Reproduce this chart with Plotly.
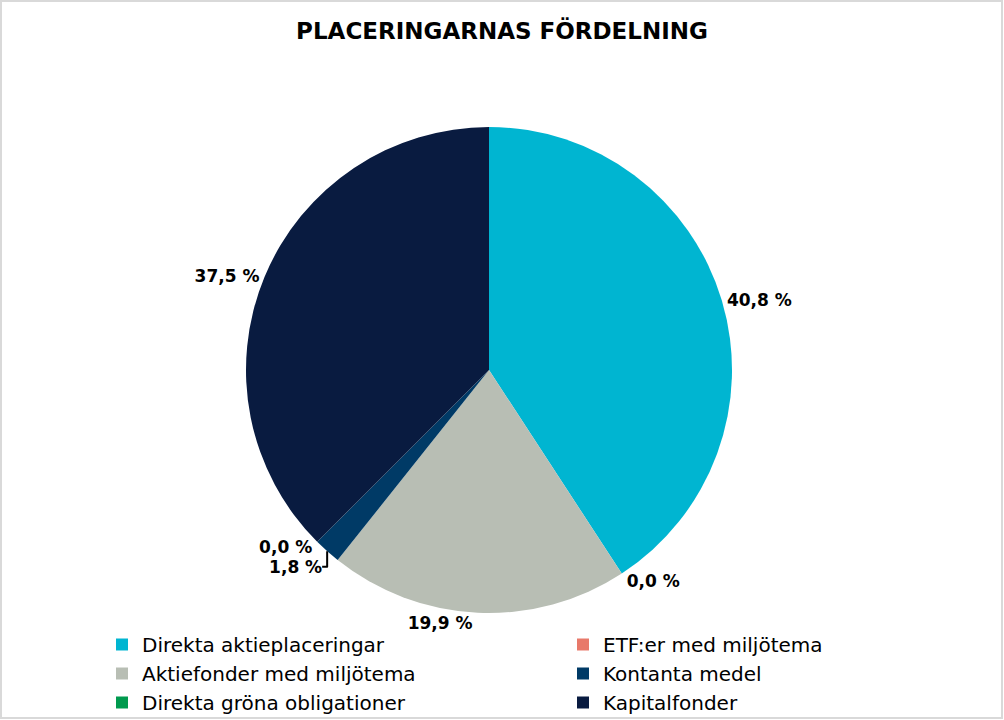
import plotly.graph_objects as go

categories = [
    "Direkta aktieplaceringar",
    "ETF:er med miljötema",
    "Aktiefonder med miljötema",
    "Kontanta medel",
    "Direkta gröna obligationer",
    "Kapitalfonder",
]
values = [40.8, 0.0, 19.9, 1.8, 0.0, 37.5]
colors = ["#00B5D1", "#E8796A", "#B8BEB4", "#003A66", "#009A4E", "#091B40"]

W, H = 1004, 720
cx, cy, r = 489, 370, 243
FONT = "DejaVu Sans"

fig = go.Figure(go.Pie(
    labels=categories,
    values=values,
    sort=False,
    direction="clockwise",
    rotation=0,
    marker=dict(colors=colors, line=dict(width=0)),
    texttemplate="%{value:.1f} %",
    textposition="outside",
    outsidetextfont=dict(family=FONT, size=17, color="black", weight="bold"),
    hoverinfo="label+value",
    domain=dict(x=[(cx - r) / W, (cx + r) / W], y=[1 - (cy + r) / H, 1 - (cy - r) / H]),
    showlegend=True,
))

fig.update_layout(
    width=W, height=H,
    margin=dict(l=0, r=0, t=0, b=0, autoexpand=False),
    paper_bgcolor="white",
    separators=", ",
    title=dict(text="<b>PLACERINGARNAS FÖRDELNING</b>", x=0.5, xanchor="center",
               y=1 - 31 / H, yanchor="middle",
               font=dict(family=FONT, size=23, color="black")),
    legend=dict(orientation="h", x=102 / W, xanchor="left", y=1 - 625 / H, yanchor="top",
                entrywidth=416, entrywidthmode="pixels", tracegroupgap=0,
                bgcolor="rgba(0,0,0,0)",
                font=dict(family=FONT, size=20, color="black"),
                traceorder="normal", itemclick=False, itemdoubleclick=False),
    shapes=[dict(type="rect", xref="paper", yref="paper", x0=1 / W, x1=1 - 2 / W, y0=2 / H, y1=1 - 1 / H,
                 line=dict(color="#D9D9D9", width=2))],
)

fig.write_html("out.html", config={"displayModeBar": False},
               post_script="document.body.style.margin='0';document.body.style.overflow='hidden';")
